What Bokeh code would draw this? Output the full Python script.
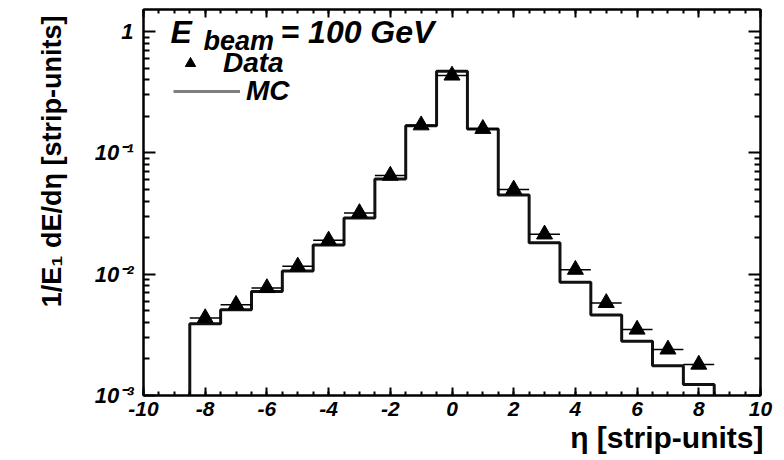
import numpy as np
from bokeh.plotting import figure
from bokeh.models import (Range1d, FixedTicker, LinearAxis, LogAxis, Label, Legend,
                          LegendItem, CustomLabelingPolicy, Title)
from bokeh.embed import file_html
from bokeh.resources import INLINE

# ---------------- data ----------------
bin_centers = [-8, -7, -6, -5, -4, -3, -2, -1, 0, 1, 2, 3, 4, 5, 6, 7, 8]
bin_width = 1.0
mc_values = [0.0039, 0.0051, 0.0072, 0.0106, 0.0174, 0.029, 0.061, 0.167, 0.47,
             0.157, 0.045, 0.0182, 0.0086, 0.0046, 0.0028, 0.00176, 0.00123]
data_values = [0.00435, 0.0056, 0.0077, 0.0116, 0.019, 0.032, 0.065, 0.169, 0.435,
               0.158, 0.050, 0.0213, 0.0109, 0.0058, 0.0035, 0.0024, 0.0018]

x_ticks = [-10, -8, -6, -4, -2, 0, 2, 4, 6, 8, 10]
x_tick_labels = ["-10", "-8", "-6", "-4", "-2", "0", "2", "4", "6", "8", "10"]
y_ticks = [0.001, 0.01, 0.1, 1.0]
y_tick_labels = ["10\u207b\u00b3", "10\u207b\u00b2", "10\u207b\u00b9", "1"]

x_title = "\u03b7 [strip-units]"
y_title = "1/E\u2081 dE/d\u03b7 [strip-units]"
energy_text = "= 100 GeV"

FONT = "Liberation Sans"

# ---------------- figure ----------------
p = figure(width=784, height=460, output_backend="svg", toolbar_location=None,
           x_range=Range1d(-10, 10), y_range=Range1d(1e-3, 1.52), y_axis_type="log",
           min_border_left=143, min_border_right=24, min_border_top=9, min_border_bottom=65)
p.grid.visible = False
p.outline_line_color = "black"
p.outline_line_width = 2
p.background_fill_color = "white"
p.border_fill_color = "white"

x_minor = list(np.arange(-10, 10.001, 0.5))
y_minor = [m * 10.0 ** k for k in range(-3, 1) for m in range(2, 10) if m * 10.0 ** k < 1.52]

hide_all = CustomLabelingPolicy(code="for (const i of indices) { indices.unset(i) }\nreturn indices")

def style_axis(ax, ticker, labels, show_labels, major_len, minor_len):
    ax.ticker = ticker
    ax.major_tick_in = major_len
    ax.major_tick_out = 0
    ax.minor_tick_in = minor_len
    ax.minor_tick_out = 0
    ax.axis_line_width = 2
    ax.major_tick_line_width = 2
    ax.minor_tick_line_width = 2
    ax.major_label_text_font = FONT
    ax.major_label_text_font_style = "bold italic"
    ax.major_label_text_color = "black"
    if show_labels:
        ax.major_label_overrides = labels
        ax.major_label_text_font_size = "21px"
    else:
        ax.major_label_policy = hide_all
        ax.major_label_standoff = 0
        ax.major_label_text_font_size = "1px"

xt = FixedTicker(ticks=x_ticks, minor_ticks=x_minor)
yt = FixedTicker(ticks=y_ticks, minor_ticks=y_minor)
xlab = {float(t): l for t, l in zip(x_ticks, x_tick_labels)}
ylab = {float(t): l for t, l in zip(y_ticks, y_tick_labels)}

style_axis(p.xaxis[0], xt, xlab, True, 8, 4)
style_axis(p.yaxis[0], yt, ylab, True, 12, 6)
p.xaxis[0].major_label_standoff = 6
p.yaxis[0].major_label_standoff = 10
p.yaxis[0].major_label_text_font_size = "22px"

top_ax = LinearAxis()
style_axis(top_ax, FixedTicker(ticks=x_ticks, minor_ticks=x_minor), {}, False, 8, 4)
p.add_layout(top_ax, "above")
right_ax = LogAxis()
style_axis(right_ax, FixedTicker(ticks=y_ticks, minor_ticks=y_minor), {}, False, 12, 6)
p.add_layout(right_ax, "right")

# axis titles (ROOT style: aligned to the axis end)
p.add_layout(Title(text=x_title, align="right", text_font=FONT, text_font_style="bold",
                   text_font_size="30px", text_color="black", standoff=0, offset=-3), "below")
p.add_layout(Title(text=y_title, align="right", text_font=FONT, text_font_style="bold",
                   text_font_size="27px", text_color="black", standoff=50, offset=6), "left")

# ---------------- MC histogram (step outline) ----------------
edges_lo = [c - bin_width / 2 for c in bin_centers]
edges_hi = [c + bin_width / 2 for c in bin_centers]
step_x = [edges_lo[0]]
step_y = [1e-4]
for lo, hi, v in zip(edges_lo, edges_hi, mc_values):
    step_x += [lo, hi]
    step_y += [v, v]
step_x.append(edges_hi[-1])
step_y.append(1e-4)
mc_r = p.line(step_x, step_y, line_color="#111111", line_width=3)

# ---------------- data ----------------
p.segment(x0=edges_lo, x1=edges_hi, y0=data_values, y1=data_values,
          line_color="black", line_width=1.5)
data_r = p.scatter(bin_centers, data_values, marker="triangle", size=16,
                   fill_color="black", line_color="black")

# legend-only renderer for MC (grey line as in the legend key); lies outside the range
mc_key = p.line([0, 0.1], [1e-6, 1e-6], line_color="#7f7f7f", line_width=3)

leg_common = dict(orientation="vertical", glyph_height=26, label_height=26,
                  padding=0, margin=0, spacing=0,
                  label_text_font=FONT, label_text_font_style="bold italic",
                  label_text_font_size="28px", label_text_color="black",
                  border_line_alpha=0, background_fill_alpha=0)
leg_data = Legend(items=[LegendItem(label="Data", renderers=[data_r])],
                  location=(32, 316), glyph_width=30, label_standoff=18, **leg_common)
leg_mc = Legend(items=[LegendItem(label="MC", renderers=[mc_key])],
                location=(30, 288), glyph_width=67, label_standoff=6, **leg_common)
p.add_layout(leg_data)
p.add_layout(leg_mc)

# ---------------- beam-energy text ----------------
lab_common = dict(x_units="screen", y_units="screen", text_font=FONT,
                  text_font_style="bold italic", text_color="black",
                  text_baseline="alphabetic", text_align="left")
p.add_layout(Label(x=27, y=364, text="E", text_font_size="32px", **lab_common))
p.add_layout(Label(x=60, y=355, text="beam", text_font_size="27px", **lab_common))
p.add_layout(Label(x=137, y=364, text=energy_text, text_font_size="32px", **lab_common))

open("out.html", "w").write(file_html(p, INLINE))
